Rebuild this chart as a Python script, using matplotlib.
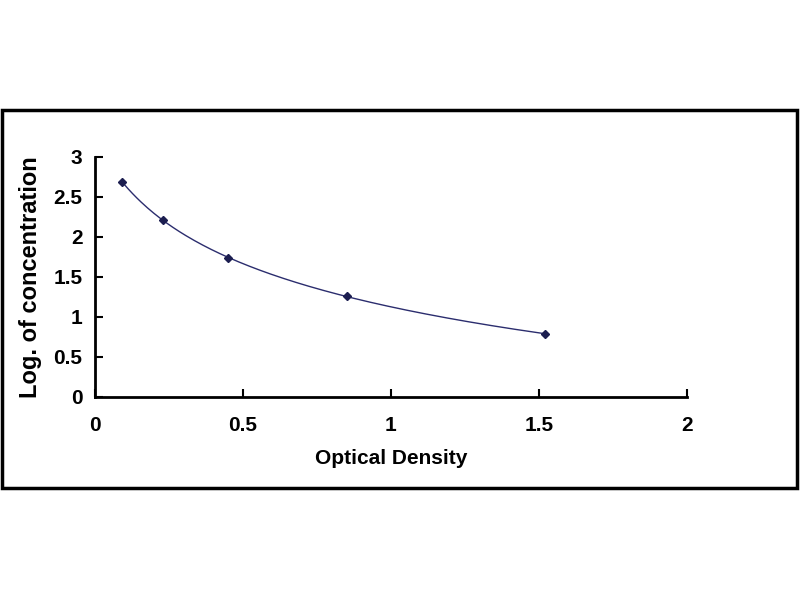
import numpy as np
import matplotlib.pyplot as plt
from matplotlib.patches import Rectangle

# standard curve points
od = np.array([0.091, 0.23, 0.45, 0.85, 1.52])
log_conc = np.array([2.69, 2.21, 1.74, 1.26, 0.79])

x_ticks = [0, 0.5, 1, 1.5, 2]
y_ticks = [0, 0.5, 1, 1.5, 2, 2.5, 3]

plt.rcParams['font.family'] = ['Liberation Sans', 'DejaVu Sans']
plt.rcParams['font.weight'] = 'bold'

fig = plt.figure(figsize=(8, 6), dpi=100)
ax = fig.add_axes([95/800, 1 - 397/600, 592/800, 240/600])

# smooth fit through the points (cubic in log OD)
coef = np.polyfit(np.log(od), log_conc, 3)
xs = np.linspace(od.min(), od.max(), 200)
ax.plot(xs, np.polyval(coef, np.log(xs)), color='#2b2d6e', linewidth=1)
ax.plot(od, log_conc, linestyle='none', marker='D', markersize=4, color='#1c1e50')

ax.set_xlim(0, 2)
ax.set_ylim(0, 3)
ax.set_xticks(x_ticks)
ax.set_xticklabels(['0', '0.5', '1', '1.5', '2'])
ax.set_yticks(y_ticks)
ax.set_yticklabels(['0', '0.5', '1', '1.5', '2', '2.5', '3'])
ax.tick_params(direction='in', length=6, width=1.5, labelsize=15)
ax.tick_params(axis='x', pad=14)
ax.tick_params(axis='y', pad=9)
ax.spines['top'].set_visible(False)
ax.spines['right'].set_visible(False)
ax.spines['left'].set_linewidth(2)
ax.spines['bottom'].set_linewidth(2)

ax.set_xlabel('Optical Density', fontsize=15, fontweight='bold', labelpad=10)
ax.set_ylabel('Log. of concentration', fontsize=17, fontweight='bold', labelpad=8)

fig.patches.append(Rectangle((2/800, 1 - 488/600), 795/800, 378/600,
                             transform=fig.transFigure, fill=False,
                             edgecolor='black', linewidth=2.5))

fig.savefig('out.png', dpi=100, facecolor='white')
